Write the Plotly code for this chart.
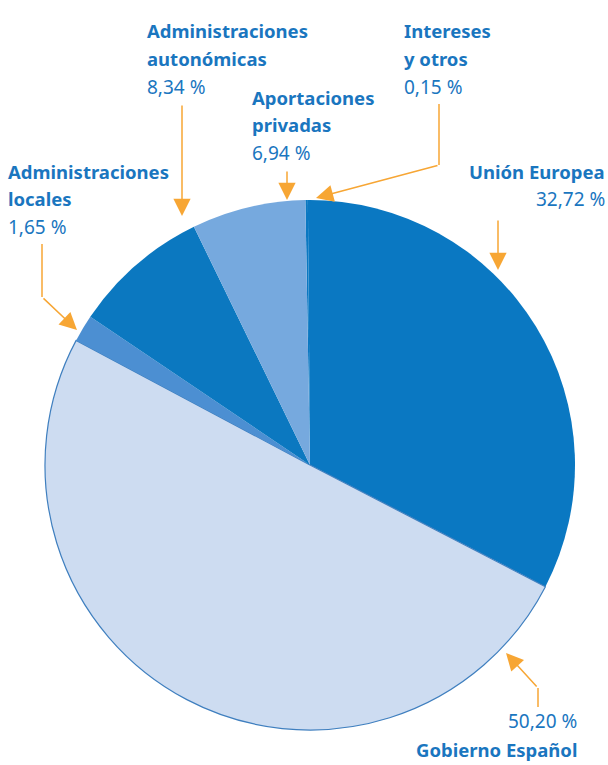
import plotly.graph_objects as go

# Data (clockwise from 12 o'clock)
labels = ["Intereses y otros", "Unión Europea", "Gobierno Español",
          "Administraciones locales", "Administraciones autonómicas", "Aportaciones privadas"]
values = [0.15, 32.72, 50.20, 1.65, 8.34, 6.94]
value_labels = ["0,15 %", "32,72 %", "50,20 %", "1,65 %", "8,34 %", "6,94 %"]
colors = ["#0a78c2", "#0a78c2", "#cddcf1", "#4c8fd2", "#0b78c0", "#76a9de"]
line_colors = ["#0a78c2", "#0a78c2", "#3f7fbf", "#4c8fd2", "#0b78c0", "#76a9de"]
line_widths = [0, 0, 1.2, 0, 0, 0]

W, H = 608, 765
TXT = "#1a76bf"
ARR = "#f7a634"
FONT = "Noto Sans"

def px(x, y):
    return x / W, 1 - y / H

fig = go.Figure()
fig.add_trace(go.Pie(
    labels=labels, values=values, sort=False, direction="clockwise", rotation=-1,
    marker=dict(colors=colors, line=dict(color=line_colors, width=line_widths)),
    textinfo="none", hoverinfo="label+percent", showlegend=False,
    domain=dict(x=[45 / W, 575 / W], y=[1 - 730 / H, 1 - 200 / H]),
))

annotations = []

def text(x, y, s, bold, anchor="left"):
    xx, yy = px(x, y)
    annotations.append(dict(
        x=xx, y=yy, xref="paper", yref="paper", xanchor=anchor, yanchor="middle",
        text=("<b>%s</b>" % s) if bold else s, showarrow=False,
        font=dict(family=FONT, size=18.5 if bold else 19, color=TXT)))

def block(x, y0, lines, value, anchor="left", value_first=False):
    ys = [y0 + 28 * i for i in range(len(lines) + 1)]
    if value_first:
        text(x, ys[0], value, False, anchor)
        for i, l in enumerate(lines):
            text(x, ys[i + 1], l, True, anchor)
    else:
        for i, l in enumerate(lines):
            text(x, ys[i], l, True, anchor)
        text(x, ys[-1], value, False, anchor)

block(145, 31, ["Administraciones", "autonómicas"], value_labels[4])
block(250, 97, ["Aportaciones", "privadas"], value_labels[5])
block(402, 31, ["Intereses", "y otros"], value_labels[0])
block(6, 171, ["Administraciones", "locales"], value_labels[3])
block(607, 171, ["Unión Europea"], value_labels[1], anchor="right")
block(579, 721, ["Gobierno Español"], value_labels[2], anchor="right", value_first=True)

shapes = []

def seg(x0, y0, x1, y1):
    a, b = px(x0, y0)
    c, d = px(x1, y1)
    shapes.append(dict(type="line", xref="paper", yref="paper", x0=a, y0=b, x1=c, y1=d,
                       line=dict(color=ARR, width=1.5)))

def arrow(xh, yh, xt, yt):
    hx, hy = px(xh, yh)
    annotations.append(dict(
        x=hx, y=hy, xref="paper", yref="paper", ax=xt - xh, ay=yt - yh,
        axref="pixel", ayref="pixel", text="", showarrow=True,
        arrowhead=2, arrowsize=2.3, arrowwidth=1.5, arrowcolor=ARR))

arrow(182, 216, 182, 104)
arrow(287, 200, 287, 170)
seg(439, 104, 439, 165)
arrow(316, 198, 439, 165)
seg(42, 244, 42, 297)
arrow(77, 330, 42, 297)
arrow(498, 270, 498, 219)
seg(538, 707, 538, 688)
arrow(506, 653, 538, 688)

fig.update_layout(
    width=W, height=H, margin=dict(l=0, r=0, t=0, b=0),
    paper_bgcolor="white", plot_bgcolor="white",
    annotations=annotations, shapes=shapes,
)
fig.write_html("out.html", config={"displayModeBar": False},
               post_script="document.body.style.margin='0';document.body.style.overflow='hidden';")
